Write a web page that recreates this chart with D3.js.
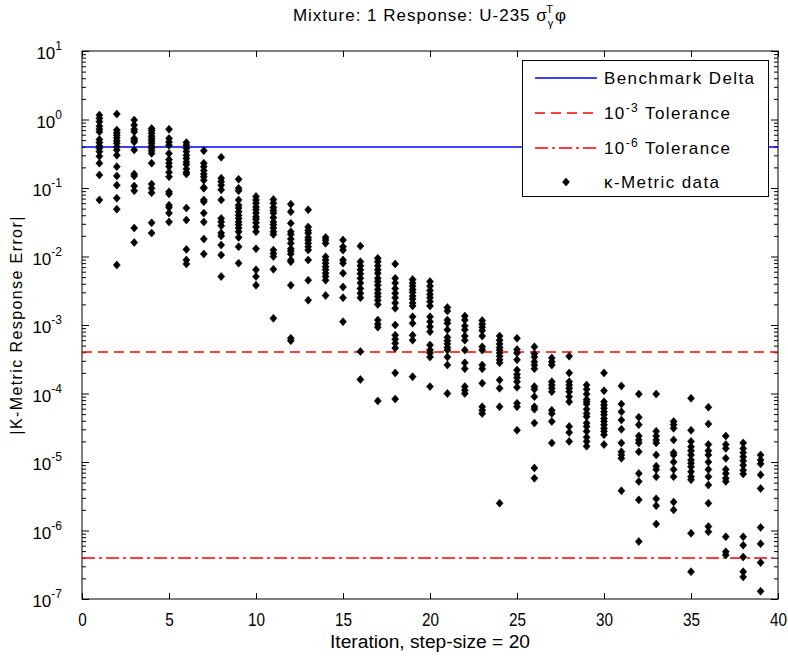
<!DOCTYPE html>
<html>
<head>
<meta charset="utf-8">
<script src="https://cdn.jsdelivr.net/npm/d3@7"></script>
<style>
    body { margin: 0; background: #fff; }
    #chart { width: 788px; height: 661px; }
    text { font-family: "Liberation Sans", Arial, sans-serif; fill: #000; }
</style>
</head>
<body>
<div id="chart"></div>
<script>
// reference lines
const benchmarkDelta = 0.4;
const tolerance3 = 4e-4;
const tolerance6 = 4e-7;

// axes
const xTicks = [0, 5, 10, 15, 20, 25, 30, 35, 40];
const yDecades = [1e-7, 1e-6, 1e-5, 1e-4, 1e-3, 1e-2, 1e-1, 1e0, 1e1];
const yExponents = ["-7", "-6", "-5", "-4", "-3", "-2", "-1", "0", "1"];

// iteration number for each column of k-metric data
const iterations = d3.range(1, 40);

// |k-metric response error| per iteration
const kMetric = [
    [1.16, 1.04, 0.93, 0.80, 0.72, 0.66, 0.51, 0.46, 0.41, 0.38, 0.34, 0.29, 0.23, 0.155, 0.067],
    [1.2, 0.70, 0.64, 0.59, 0.54, 0.49, 0.45, 0.40, 0.36, 0.30, 0.205, 0.15, 0.11, 0.071, 0.049, 0.0075],
    [0.98, 0.83, 0.72, 0.66, 0.53, 0.50, 0.47, 0.36, 0.16, 0.15, 0.107, 0.091, 0.026, 0.016],
    [0.74, 0.69, 0.63, 0.57, 0.53, 0.49, 0.45, 0.41, 0.38, 0.35, 0.32, 0.23, 0.114, 0.099, 0.085, 0.031, 0.022],
    [0.72, 0.53, 0.47, 0.42, 0.32, 0.26, 0.23, 0.205, 0.17, 0.146, 0.088, 0.082, 0.056, 0.052, 0.043, 0.032],
    [0.46, 0.42, 0.38, 0.34, 0.30, 0.27, 0.24, 0.22, 0.19, 0.17, 0.16, 0.051, 0.034, 0.0127, 0.0089, 0.0078],
    [0.35, 0.23, 0.205, 0.18, 0.16, 0.146, 0.13, 0.102, 0.099, 0.067, 0.063, 0.043, 0.032, 0.018, 0.0109],
    [0.28, 0.139, 0.124, 0.11, 0.094, 0.067, 0.036, 0.032, 0.028, 0.022, 0.020, 0.0147, 0.0105, 0.0051],
    [0.134, 0.099, 0.091, 0.067, 0.056, 0.051, 0.045, 0.040, 0.036, 0.032, 0.029, 0.026, 0.023, 0.019, 0.0139, 0.0080],
    [0.075, 0.067, 0.060, 0.053, 0.048, 0.043, 0.038, 0.035, 0.031, 0.027, 0.023, 0.013, 0.0064, 0.0051, 0.0038],
    [0.068, 0.060, 0.052, 0.047, 0.043, 0.037, 0.032, 0.029, 0.026, 0.023, 0.021, 0.0124, 0.0111, 0.0100, 0.0065, 0.00125],
    [0.058, 0.045, 0.0305, 0.023, 0.021, 0.018, 0.0156, 0.013, 0.012, 0.0109, 0.0089, 0.0084, 0.0038, 6.4e-4, 5.9e-4],
    [0.048, 0.027, 0.024, 0.022, 0.019, 0.0174, 0.0156, 0.0139, 0.0124, 0.0089, 0.0045, 0.0023],
    [0.019, 0.0174, 0.0156, 0.0099, 0.0089, 0.0080, 0.0071, 0.0064, 0.0057, 0.0051, 0.0045, 0.0027],
    [0.0174, 0.0139, 0.0124, 0.0089, 0.0080, 0.0057, 0.0036, 0.0025, 0.00112],
    [0.0142, 0.0084, 0.0073, 0.0064, 0.0056, 0.0048, 0.0041, 0.0034, 0.0029, 0.0025, 4.1e-4, 1.6e-4],
    [0.0094, 0.0084, 0.0073, 0.0064, 0.0057, 0.0048, 0.0043, 0.0038, 0.0033, 0.0029, 0.0026, 0.0023, 0.0020, 0.00118, 0.00103, 9.3e-4, 7.8e-5],
    [0.0078, 0.0048, 0.0041, 0.0034, 0.0029, 0.0025, 0.0021, 0.00175, 0.0010, 7.1e-4, 6.2e-4, 5.4e-4, 4.6e-4, 2.0e-4, 8.3e-5],
    [0.0046, 0.0041, 0.0037, 0.0033, 0.0030, 0.00265, 0.0024, 0.0021, 0.0019, 0.00132, 0.00106, 7.1e-4, 6.0e-4, 1.76e-4],
    [0.0043, 0.0037, 0.0032, 0.0028, 0.0025, 0.0022, 0.0019, 0.00132, 0.00112, 9.4e-4, 8.0e-4, 5.1e-4, 4.3e-4, 3.9e-4, 3.4e-4, 1.26e-4],
    [0.0018, 0.0016, 0.00118, 0.00106, 8.5e-4, 6.6e-4, 5.9e-4, 5.3e-4, 4.7e-4, 4.3e-4, 3.4e-4, 2.6e-4, 1.0e-4],
    [0.00135, 0.00118, 9.7e-4, 8.5e-4, 6.9e-4, 6.0e-4, 4.3e-4, 2.8e-4, 2.3e-4, 1.26e-4, 1.12e-4, 1.0e-4],
    [0.00116, 0.00103, 9.3e-4, 8.3e-4, 6.9e-4, 4.8e-4, 4.3e-4, 2.6e-4, 2.3e-4, 1.41e-4, 6.4e-5, 5.7e-5, 5.1e-5],
    [6.9e-4, 6.0e-4, 5.3e-4, 4.7e-4, 4.3e-4, 3.9e-4, 3.5e-4, 3.1e-4, 2.8e-4, 1.57e-4, 1.19e-4, 6.4e-5, 2.5e-6],
    [6.4e-4, 4.4e-4, 3.9e-4, 3.1e-4, 2.2e-4, 1.9e-4, 1.7e-4, 1.49e-4, 1.23e-4, 7.2e-5, 6.4e-5, 2.9e-5],
    [4.8e-4, 3.8e-4, 3.4e-4, 2.9e-4, 2.6e-4, 2.3e-4, 1.26e-4, 1.15e-4, 9.0e-5, 6.4e-5, 5.9e-5, 3.7e-5, 8.2e-6, 5.8e-6],
    [3.3e-4, 2.9e-4, 2.6e-4, 1.49e-4, 1.33e-4, 1.19e-4, 1.06e-4, 5.7e-5, 5.1e-5, 3.9e-5, 1.9e-5],
    [3.5e-4, 2.0e-4, 1.49e-4, 1.33e-4, 1.19e-4, 1.06e-4, 9.0e-5, 7.6e-5, 3.3e-5, 2.7e-5, 2.0e-5],
    [1.33e-4, 1.15e-4, 9.8e-5, 8.2e-5, 7.6e-5, 7.0e-5, 5.9e-5, 5.1e-5, 4.6e-5, 3.7e-5, 3.3e-5, 2.8e-5, 2.3e-5, 2.0e-5, 1.7e-5],
    [2.0e-4, 1.1e-4, 7.6e-5, 6.8e-5, 6.1e-5, 5.4e-5, 4.9e-5, 4.3e-5, 3.9e-5, 3.5e-5, 3.1e-5, 2.8e-5, 2.5e-5, 1.8e-5],
    [1.29e-4, 7.0e-5, 5.4e-5, 4.1e-5, 3.0e-5, 1.9e-5, 1.41e-5, 1.27e-5, 1.13e-5, 3.8e-6],
    [9.8e-5, 4.5e-5, 3.5e-5, 2.4e-5, 2.1e-5, 1.9e-5, 1.41e-5, 6.8e-6, 5.2e-6, 2.8e-6, 6.9e-7],
    [9.8e-5, 2.8e-5, 2.4e-5, 2.1e-5, 1.9e-5, 1.27e-5, 8.7e-6, 7.8e-6, 6.1e-6, 2.9e-6, 2.3e-6, 1.24e-6],
    [3.9e-5, 3.5e-5, 3.1e-5, 2.1e-5, 1.37e-5, 1.27e-5, 1.0e-5, 7.8e-6, 6.1e-6, 2.6e-6, 2.0e-6],
    [8.5e-5, 2.9e-5, 2.0e-5, 1.67e-5, 1.46e-5, 1.27e-5, 1.07e-5, 9.6e-6, 8.5e-6, 7.2e-6, 6.1e-6, 5.5e-6, 9.1e-7, 2.5e-7],
    [6.3e-5, 3.6e-5, 1.8e-5, 1.46e-5, 1.27e-5, 1.0e-5, 7.8e-6, 6.1e-6, 4.6e-6, 2.5e-6, 1.14e-6, 9.6e-7],
    [2.4e-5, 1.8e-5, 1.58e-5, 1.13e-5, 7.8e-6, 6.8e-6, 5.8e-6, 5.2e-6, 8.1e-7, 4.9e-7, 4.4e-7],
    [1.9e-5, 1.58e-5, 1.37e-5, 1.19e-5, 1.04e-5, 9.0e-6, 7.6e-6, 6.7e-6, 8.1e-7, 6.1e-7, 4.1e-7, 2.5e-7, 2.1e-7],
    [1.27e-5, 1.07e-5, 9.4e-6, 6.5e-6, 4.1e-6, 1.11e-6, 6.4e-7, 3.4e-7, 1.3e-7]
];

const legendLabels = ["Benchmark Delta", "-3", "-6", "\u03BA-Metric data"];

class ResponseVis {
    constructor(parentElement) {
        this.parentElement = parentElement;
        this.initVis();
    }

    initVis() {
        let vis = this;

        vis.margin = { top: 51, right: 10, bottom: 62, left: 82 };
        vis.width = 788 - vis.margin.left - vis.margin.right;
        vis.height = 661 - vis.margin.top - vis.margin.bottom;

        vis.root = d3.select("#" + vis.parentElement).append("svg")
            .attr("width", 788)
            .attr("height", 661);

        vis.svg = vis.root.append("g")
            .attr("transform", "translate(" + vis.margin.left + "," + vis.margin.top + ")");

        vis.x = d3.scaleLinear().domain([0, 40]).range([0, vis.width]);
        vis.y = d3.scaleLog().domain([1e-7, 10]).range([vis.height, 0]);

        // flatten data into points
        vis.points = [];
        kMetric.forEach((col, i) => {
            col.forEach(v => vis.points.push({ iter: iterations[i], value: v }));
        });

        vis.drawAxes();
        vis.drawData();
        vis.drawLegend();
        vis.drawLabels();
    }

    drawAxes() {
        let vis = this;
        let minor = vis.y.ticks().filter(t => !yDecades.some(d => Math.abs(t / d - 1) < 1e-9));

        // bottom (narrow labels like the matlab screen font)
        let xb = vis.svg.append("g")
            .attr("transform", "translate(0," + vis.height + ")")
            .call(d3.axisBottom(vis.x).tickValues(xTicks).tickSizeInner(-6).tickSizeOuter(0).tickPadding(14));
        xb.selectAll("text")
            .attr("font-size", 18)
            .attr("transform", "scale(0.85,1)");

        // top
        vis.svg.append("g")
            .call(d3.axisTop(vis.x).tickValues(xTicks).tickSizeInner(-6).tickSizeOuter(0).tickFormat(""));

        // left
        let yl = vis.svg.append("g")
            .call(d3.axisLeft(vis.y).tickValues(yDecades).tickSizeInner(-7).tickSizeOuter(0).tickPadding(20));
        yl.selectAll("text")
            .attr("font-size", 17)
            .attr("dy", "0.45em")
            .text("10")
            .append("tspan")
            .attr("font-size", 12)
            .attr("dy", "-0.75em")
            .text((d, i) => yExponents[i]);
        vis.svg.append("g")
            .call(d3.axisLeft(vis.y).tickValues(minor).tickSizeInner(-4).tickSizeOuter(0).tickFormat(""));

        // right
        vis.svg.append("g")
            .attr("transform", "translate(" + vis.width + ",0)")
            .call(d3.axisRight(vis.y).tickValues(yDecades).tickSizeInner(-7).tickSizeOuter(0).tickFormat(""));
        vis.svg.append("g")
            .attr("transform", "translate(" + vis.width + ",0)")
            .call(d3.axisRight(vis.y).tickValues(minor).tickSizeInner(-4).tickSizeOuter(0).tickFormat(""));

        vis.svg.selectAll(".domain").remove();
        vis.svg.selectAll(".tick line").attr("stroke", "#000");

        vis.svg.append("rect")
            .attr("width", vis.width)
            .attr("height", vis.height)
            .attr("fill", "none")
            .attr("stroke", "#000")
            .attr("stroke-width", 1);
    }

    drawData() {
        let vis = this;

        let hlines = [
            { v: benchmarkDelta, color: "#0000ff", dash: null },
            { v: tolerance3, color: "#ff0000", dash: "10,6" },
            { v: tolerance6, color: "#ff0000", dash: "13,4,3,4" }
        ];

        // two pixel rows so the colour survives
        vis.svg.selectAll(".ref")
            .data(hlines)
            .enter().append("line")
            .attr("class", "ref")
            .attr("x1", 0)
            .attr("x2", vis.width)
            .attr("y1", d => Math.round(vis.y(d.v)))
            .attr("y2", d => Math.round(vis.y(d.v)))
            .attr("stroke", d => d.color)
            .attr("stroke-width", 1.6)
            .attr("stroke-dasharray", d => d.dash);

        vis.svg.selectAll(".dot")
            .data(vis.points)
            .enter().append("path")
            .attr("class", "dot")
            .attr("d", "M0,-4L3.5,0L0,4L-3.5,0Z")
            .attr("transform", d => "translate(" + vis.x(d.iter) + "," + vis.y(d.value) + ")")
            .attr("fill", "#000")
            .attr("stroke", "#000")
            .attr("stroke-width", 0.6);
    }

    drawLegend() {
        let vis = this;
        let lg = vis.root.append("g");

        lg.append("rect")
            .attr("x", 522.5).attr("y", 60.5)
            .attr("width", 246).attr("height", 136)
            .attr("fill", "#fff").attr("stroke", "#000");

        let rows = [78, 113, 148, 182];
        let styles = [
            { color: "#0000ff", dash: null },
            { color: "#ff0000", dash: "10,6" },
            { color: "#ff0000", dash: "13,4,3,4" }
        ];
        styles.forEach((s, i) => {
            lg.append("line")
                .attr("x1", 535).attr("x2", 597)
                .attr("y1", rows[i]).attr("y2", rows[i])
                .attr("stroke", s.color)
                .attr("stroke-width", 1.6)
                .attr("stroke-dasharray", s.dash);
        });
        lg.append("path")
            .attr("d", "M0,-4L3.5,0L0,4L-3.5,0Z")
            .attr("transform", "translate(566," + rows[3] + ")")
            .attr("fill", "#000").attr("stroke", "#000").attr("stroke-width", 0.6);

        rows.forEach((r, i) => {
            let t = lg.append("text")
                .attr("x", 604).attr("y", r + 6)
                .attr("font-size", 17)
                .attr("letter-spacing", "1.4px");
            if (i === 1 || i === 2) {
                t.append("tspan").text("10");
                t.append("tspan").attr("font-size", 12).attr("dy", -7).text(legendLabels[i]);
                t.append("tspan").attr("dy", 7).text(" Tolerance");
            } else {
                t.text(legendLabels[i]);
            }
        });
    }

    drawLabels() {
        let vis = this;
        let cx = vis.margin.left + vis.width / 2;

        // title with sigma_gamma^T phi
        let title = vis.root.append("text")
            .attr("x", cx).attr("y", 21)
            .attr("text-anchor", "middle")
            .attr("font-size", 17)
            .attr("letter-spacing", "1px");
        title.append("tspan").text("Mixture: 1 Response: U-235 \u03C3");
        title.append("tspan").attr("font-size", 11).attr("dy", 6).text("\u03B3");
        title.append("tspan").attr("font-size", 11).attr("dy", -14).attr("dx", -8).text("T");
        title.append("tspan").attr("dy", 8).attr("dx", 1).text("\u03C6");

        vis.root.append("text")
            .attr("x", cx).attr("y", 648)
            .attr("text-anchor", "middle")
            .attr("font-size", 18)
            .attr("textLength", 200)
            .attr("lengthAdjust", "spacingAndGlyphs")
            .text("Iteration, step-size = 20");

        vis.root.append("text")
            .attr("transform", "translate(22," + (vis.margin.top + vis.height / 2) + ") rotate(-90)")
            .attr("text-anchor", "middle")
            .attr("font-size", 16)
            .attr("letter-spacing", "1.4px")
            .text("|K-Metric Response Error|");
    }
}

new ResponseVis("chart");
</script>
</body>
</html>
